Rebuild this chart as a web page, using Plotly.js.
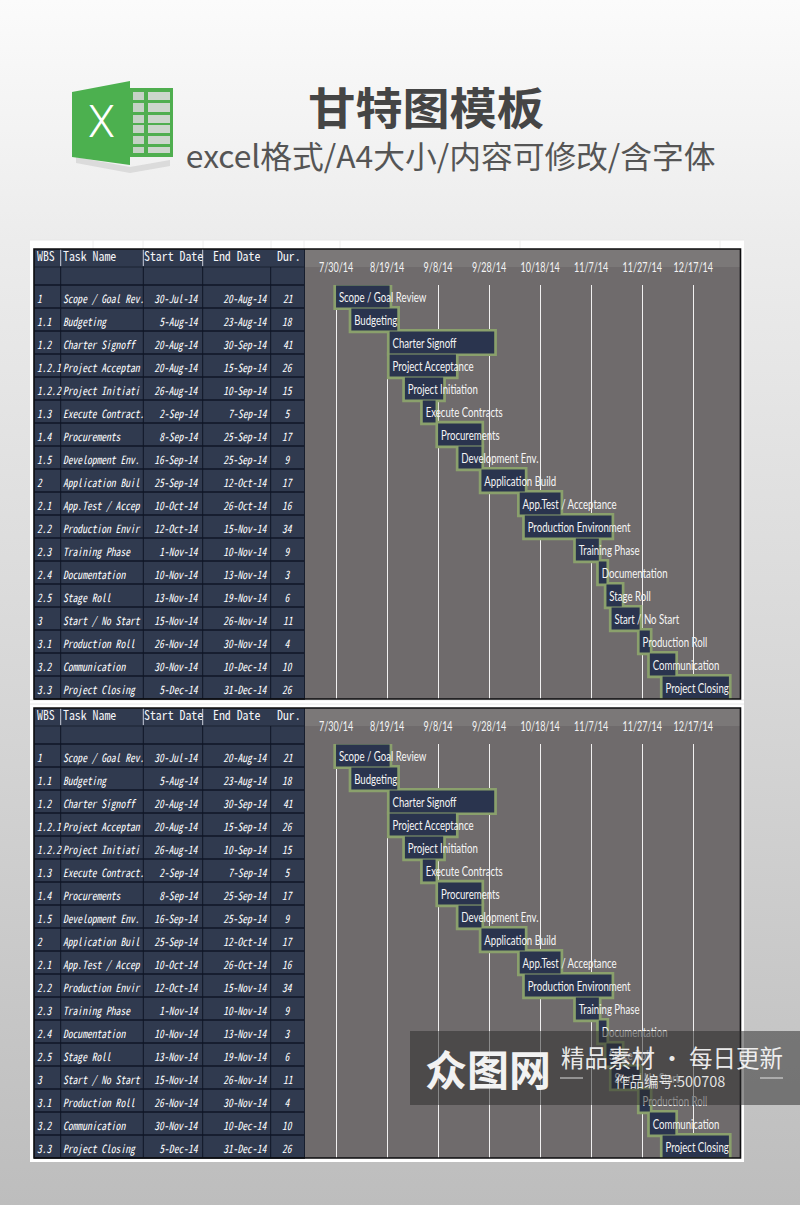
<!DOCTYPE html>
<html><head><meta charset="utf-8">
<script src="https://cdn.plot.ly/plotly-3.0.1.min.js"></script>
<style>html,body{margin:0;padding:0;width:800px;height:1205px;overflow:hidden;background:linear-gradient(180deg,#fbfbfb 0%,#ececec 20%,#d8d8d8 55%,#bdbdbd 100%)}#c{width:800px;height:1205px}</style>
</head><body><div id="c"></div>
<script>
const wbs=['1','1.1','1.2','1.2.1','1.2.2','1.3','1.4','1.5','2','2.1','2.2','2.3','2.4','2.5','3','3.1','3.2','3.3'];
const tasks=['Scope / Goal Review','Budgeting','Charter Signoff','Project Acceptance','Project Initiation','Execute Contracts','Procurements','Development Env.','Application Build','App.Test / Acceptance','Production Environment','Training Phase','Documentation','Stage Roll','Start / No Start','Production Roll','Communication','Project Closing'];
const cellTasks=['Scope / Goal Rev.','Budgeting','Charter Signoff','Project Acceptan','Project Initiati','Execute Contract.','Procurements','Development Env.','Application Buil','App.Test / Accep','Production Envir','Training Phase','Documentation','Stage Roll','Start / No Start','Production Roll','Communication','Project Closing'];
const startLabels=['30-Jul-14','5-Aug-14','20-Aug-14','20-Aug-14','26-Aug-14','2-Sep-14','8-Sep-14','16-Sep-14','25-Sep-14','10-Oct-14','12-Oct-14','1-Nov-14','10-Nov-14','13-Nov-14','15-Nov-14','26-Nov-14','30-Nov-14','5-Dec-14'];
const endLabels=['20-Aug-14','23-Aug-14','30-Sep-14','15-Sep-14','10-Sep-14','7-Sep-14','25-Sep-14','25-Sep-14','12-Oct-14','26-Oct-14','15-Nov-14','10-Nov-14','13-Nov-14','19-Nov-14','26-Nov-14','30-Nov-14','10-Dec-14','31-Dec-14'];
const durations=[21,18,41,26,15,5,17,9,17,16,34,9,3,6,11,4,10,26];
const headers=['WBS','Task Name','Start Date','End Date','Dur.'];
const DAY=86400000;
const iso=s=>{const p=s.split('-');const m={Jul:'07',Aug:'08',Sep:'09',Oct:'10',Nov:'11',Dec:'12'}[p[1]];return '20'+p[2]+'-'+m+'-'+p[0].padStart(2,'0');};
const starts=startLabels.map(iso);
const rows=wbs.map((_,i)=>i);
const W=800,H=1205;
const px=x=>x/W, py=y=>1-y/H;
const MONO="'Noto Sans Mono CJK SC','Noto Sans Mono','Liberation Mono',monospace";
const NARROW="Lato,'Liberation Sans',sans-serif";
const CJK="'Noto Sans CJK SC',sans-serif";
const shapes=[],annotations=[];
const rect=(x0,y0,x1,y1,fill,layer,line)=>shapes.push({type:'rect',xref:'paper',yref:'paper',x0:px(x0),x1:px(x1),y0:py(y0),y1:py(y1),fillcolor:fill,line:line||{width:0},layer:layer||'below'});
const seg=(x0,y0,x1,y1,c,w,layer)=>shapes.push({type:'line',xref:'paper',yref:'paper',x0:px(x0),x1:px(x1),y0:py(y0),y1:py(y1),line:{color:c,width:w},layer:layer||'below'});
const txt=(x,y,t,size,color,fam,anchor,fontExtra,name)=>annotations.push({name:name||'plain',xref:'paper',yref:'paper',x:px(x),y:py(y),text:t,showarrow:false,xanchor:anchor||'left',yanchor:'middle',font:Object.assign({size,color,family:fam},fontExtra||{})});

// white sheet with faint cell grid
rect(30,240,744,1162,'#ffffff');
[240,700,704].forEach(y=>seg(30,y,744,y,'#e8e8e8',1));
[93,143,203,271,304,340,520,720].forEach(x=>seg(x,240,x,249,'#eeeeee',1));

const colX=[34,60.7,143.3,202.7,270.7,304];
const ROW=23;
function chart(off,yName){
  const top=249+off;
  rect(305,top,740.5,699+off,'#6f6b6c');
  rect(305,top,740.5,267+off,'#7b7878');
  rect(34,top,305,699+off,'#303a4f');
  seg(34,267+off,305,267+off,'#1a2233',1);
  for(let i=0;i<=18;i++) seg(34,285+off+i*ROW,305,285+off+i*ROW,'#0f1626',1.3);
  colX.slice(1,5).forEach(x=>seg(x,267+off,x,699+off,'#0f1626',1));
  [60.7,143.3,202.7].forEach(x=>seg(x,top,x,266+off,'#c9cedb',1));
  seg(304.5,top,304.5,699+off,'#171e2e',1);
  rect(34,top,740.5,699+off,'rgba(0,0,0,0)','above',{color:'#0c0c0e',width:1.6});
  const hx=[34.5,60.5,141.5,211,274.5];
  headers.forEach((h,i)=>txt(hx[i],255.5+off,h,13,'#f4f5f8',MONO,'left',{},'head'));
  rows.forEach(i=>{
    const base={name:'cell',xref:'paper',yref:yName,y:i,showarrow:false,yanchor:'middle',yshift:-1,font:{size:11.4,color:'#ffffff',family:MONO,style:'italic'}};
    const add=(x,t,a)=>annotations.push(Object.assign({},base,{x:px(x),text:String(t),xanchor:a}));
    add(34.5,wbs[i],'left');
    add(60.5,cellTasks[i],'left');
    add(201,startLabels[i],'right');
    add(269.5,endLabels[i],'right');
    add(287.5,durations[i],'center');
  });
}
chart(0,'y');
chart(459,'y2');

// heading
txt(426,106,'<b>甘特图模板</b>',44,'#454545',CJK,'center',{},'title');
txt(450,155,'excel格式/A4大小/内容可修改/含字体',31,'#555555',CJK,'center',{},'sub');

// excel icon
const path=(d,fill,op)=>shapes.push({type:'path',xref:'paper',yref:'paper',path:d,fillcolor:fill,opacity:op==null?1:op,line:{width:0},layer:'below'});
const P=a=>'M'+a.map(p=>px(p[0])+','+py(p[1])).join(' L')+' Z';
path(P([[76,157],[130,167],[170,160],[170,166],[130,173],[76,163]]),'#9a9a9a',0.25);
path(P([[130,88],[173,88],[173,157],[130,157]]),'#4fae4f');
path(P([[72,92],[130,81],[130,165],[72,157]]),'#4cb04f');
[[92,100],[103,112],[115,123],[125,133],[136,144],[147,153]].forEach(r=>{
  path(P([[133,r[0]],[144,r[0]],[144,r[1]],[133,r[1]]]),'#c5d2c5');
  path(P([[148,r[0]],[170,r[0]],[170,r[1]],[148,r[1]]]),'#ccd6cc');
});
txt(101,122,'X',44,'#ffffff',"Roboto,sans-serif",'center',{weight:300});

// watermark
rect(410,1031,800,1105,'rgba(45,45,45,0.52)','above');
seg(560,1078,583,1078,'rgba(255,255,255,0.8)',1,'above');
seg(760,1078,783,1078,'rgba(255,255,255,0.8)',1,'above');
txt(488,1067,'<b>众图网</b>',42,'#f2f2f2',CJK,'center');
txt(671.5,1057,'精品素材 · 每日更新',23.5,'rgba(255,255,255,0.9)',CJK,'center');
txt(670,1080,'作品编号:500708',14.5,'rgba(255,255,255,0.85)',CJK,'center');

const xCommon={type:'date',range:['2014-07-17 20:00','2015-01-04 13:00'],domain:[px(305),px(740.5)],side:'top',tick0:'2014-07-30',dtick:20*DAY,tickformat:'%-m/%-d/%y',tickangle:0,tickfont:{family:NARROW,size:13,color:'#f4f4f4'},showgrid:true,gridcolor:'rgba(255,255,255,0.9)',gridwidth:1,zeroline:false,showline:false,ticks:'',ticklabelstandoff:9,fixedrange:true};
const yCommon={range:[17.5,-0.5],showticklabels:false,showgrid:false,zeroline:false,showline:false,ticks:'',fixedrange:true};
const layout={width:W,height:H,margin:{l:0,r:0,t:0,b:0},paper_bgcolor:'rgba(0,0,0,0)',plot_bgcolor:'rgba(0,0,0,0)',showlegend:false,barmode:'overlay',shapes,annotations,
  xaxis:Object.assign({},xCommon,{anchor:'y'}),
  yaxis:Object.assign({},yCommon,{domain:[py(699),py(285)],anchor:'x'}),
  xaxis2:Object.assign({},xCommon,{anchor:'y2'}),
  yaxis2:Object.assign({},yCommon,{domain:[py(1158),py(744)],anchor:'x2'})};
const spans=durations.map(d=>d*DAY);
const labelRows=rows.map(r=>r+0.11);
function traces(xa,ya){return [
  {type:'bar',orientation:'h',xaxis:xa,yaxis:ya,y:rows,x:spans,base:starts,width:0.95,marker:{color:'#8aa06c',line:{color:'#8aa06c',width:5.4}},hoverinfo:'skip'},
  {type:'bar',orientation:'h',xaxis:xa,yaxis:ya,y:rows,x:spans,base:starts,width:0.95,marker:{color:'#2a344e',line:{width:0}},hoverinfo:'skip'},
  {type:'scatter',mode:'markers+text',xaxis:xa,yaxis:ya,y:labelRows,x:starts,text:tasks,textposition:'middle right',marker:{size:3,opacity:0},textfont:{family:NARROW,size:13,color:'#f5f5f5'},cliponaxis:false,hoverinfo:'skip'}
];}
const squeeze=(el,f)=>{const w=el.getComputedTextLength();el.setAttribute('textLength',w*f);el.setAttribute('lengthAdjust','spacingAndGlyphs');return w*(1-f);};
const gd=document.getElementById('c');
Plotly.newPlot(gd,traces('x','y').concat(traces('x2','y2')),layout,{staticPlot:true,displayModeBar:false}).then(()=>{
  gd.querySelectorAll('.textpoint text').forEach(t=>squeeze(t,0.74));
  gd.querySelectorAll('.xtick text,.x2tick text').forEach(t=>squeeze(t,0.69));
  const factors={cell:0.84,head:0.91,title:1.07,sub:1.024};
  gd.querySelectorAll('.annotation').forEach(g=>{
    const a=gd.layout.annotations[+g.getAttribute('data-index')];
    const f=a&&factors[a.name];
    if(!f) return;
    const t=g.querySelector('.annotation-text');
    const lost=squeeze(t,f);
    const dx=a.xanchor==='left'?-lost/2:a.xanchor==='right'?lost/2:0;
    t.setAttribute('x',(parseFloat(t.getAttribute('x'))||0)+dx);
  });
});
</script></body></html>
